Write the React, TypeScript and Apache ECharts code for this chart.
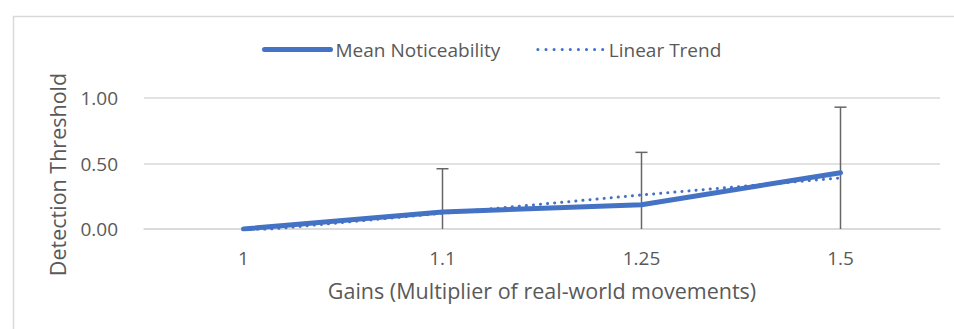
import React, { useEffect, useRef } from "react";
import * as echarts from "echarts";

// Gain levels on the category axis
const gains = ["1", "1.1", "1.25", "1.5"];
// Mean noticeability (detection threshold) per gain
const meanNoticeability = [0.0, 0.13, 0.185, 0.43];
// Linear trend through the means
const linearTrend = [-0.02, 0.12, 0.26, 0.39];
// Symmetric error amounts per gain
const errorAmounts = [0, 0.33, 0.4, 0.5];
// Y tick values
const yTicks = [0, 0.5, 1.0];

const BLUE = "#4472C4";
const GREY_TEXT = "#595959";
const GRID_GREY = "#d9d9d9";
const FONT = "'Open Sans', 'Noto Sans', sans-serif";

export default function App() {
  const ref = useRef<HTMLDivElement>(null);

  useEffect(() => {
    if (!ref.current) return;
    const chart = echarts.init(ref.current, undefined, { renderer: "svg" });

    const errorData = gains
      .map((_, i) => [i, meanNoticeability[i] - errorAmounts[i], meanNoticeability[i] + errorAmounts[i]])
      .filter((_, i) => errorAmounts[i] > 0);

    chart.setOption({
      animation: false,
      backgroundColor: "#ffffff",
      textStyle: { fontFamily: FONT },
      graphic: [
        {
          type: "rect",
          left: 11,
          top: 14,
          shape: { x: 0, y: 0, width: 960, height: 330 },
          style: { fill: "none", stroke: GRID_GREY, lineWidth: 1.5 },
          silent: true,
        },
      ],
      legend: {
        left: 257,
        top: 35,
        padding: 5,
        itemWidth: 66,
        itemHeight: 20,
        itemGap: 36,
        textStyle: { fontFamily: FONT, fontSize: 19, color: GREY_TEXT },
        itemStyle: { color: "transparent", borderWidth: 0, opacity: 0 },
        data: [
          { name: "Mean Noticeability", lineStyle: { width: 5, color: BLUE, cap: "round" } },
          { name: "Linear Trend", lineStyle: { width: 3, color: BLUE, type: [0.1, 8], cap: "round" } },
        ],
      },
      grid: { left: 144, right: 14, top: 98, bottom: 100, containLabel: false },
      xAxis: {
        type: "category",
        data: gains,
        boundaryGap: true,
        name: "Gains (Multiplier of real-world movements)",
        nameLocation: "middle",
        nameGap: 50,
        nameTextStyle: { fontFamily: FONT, fontSize: 21.5, color: GREY_TEXT },
        axisLine: { show: true, lineStyle: { color: GRID_GREY, width: 1.5 } },
        axisTick: { show: false },
        axisLabel: { fontFamily: FONT, fontSize: 19, color: GREY_TEXT, margin: 19 },
      },
      yAxis: {
        type: "value",
        min: yTicks[0],
        max: yTicks[yTicks.length - 1],
        interval: 0.5,
        name: "Detection Threshold",
        nameLocation: "middle",
        nameGap: 76,
        nameRotate: 90,
        nameTextStyle: {
          fontFamily: FONT,
          fontSize: 21.5,
          color: GREY_TEXT,
          padding: [0, 22, 0, 0],
        },
        axisLine: { show: false },
        axisTick: { show: false },
        axisLabel: {
          fontFamily: FONT,
          fontSize: 19,
          color: GREY_TEXT,
          margin: 26,
          formatter: (v: number) => v.toFixed(2),
        },
        splitLine: { lineStyle: { color: GRID_GREY, width: 1.5 } },
      },
      series: [
        {
          name: "Error",
          type: "custom",
          clip: true,
          z: 2,
          data: errorData,
          renderItem: (params: any, api: any) => {
            const idx = api.value(0);
            const lo = api.coord([idx, api.value(1)]);
            const hi = api.coord([idx, api.value(2)]);
            const half = 6;
            const style = { stroke: "#666666", lineWidth: 1.5 };
            return {
              type: "group",
              children: [
                { type: "line", shape: { x1: hi[0], y1: hi[1], x2: lo[0], y2: lo[1] }, style },
                { type: "line", shape: { x1: hi[0] - half, y1: hi[1], x2: hi[0] + half, y2: hi[1] }, style },
                { type: "line", shape: { x1: lo[0] - half, y1: lo[1], x2: lo[0] + half, y2: lo[1] }, style },
              ],
            };
          },
        },
        {
          name: "Mean Noticeability",
          type: "line",
          data: meanNoticeability,
          symbol: "none",
          z: 3,
          lineStyle: { color: BLUE, width: 5, cap: "round", join: "round" },
          itemStyle: { color: BLUE },
        },
        {
          name: "Linear Trend",
          type: "line",
          data: linearTrend,
          symbol: "none",
          z: 4,
          lineStyle: { color: BLUE, width: 3, type: [0.1, 7], cap: "round" },
          itemStyle: { color: BLUE },
        },
      ],
    });

    return () => chart.dispose();
  }, []);

  return (
    <div
      ref={ref}
      style={{ position: "fixed", left: 0, top: 0, width: 954, height: 329, background: "#fff" }}
    />
  );
}
